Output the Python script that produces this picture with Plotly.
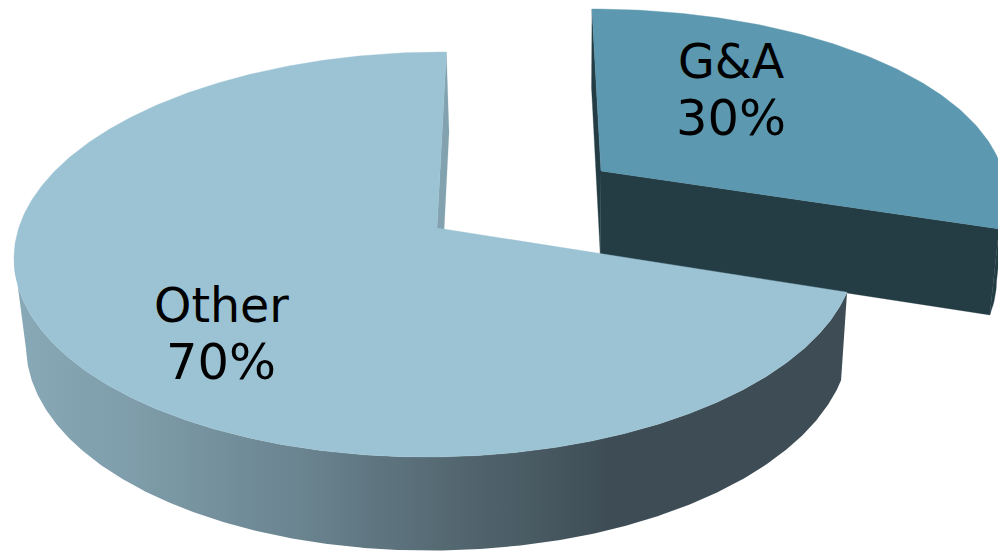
import numpy as np
import plotly.graph_objects as go

# ---- chart data ----
categories = ["G&A", "Other"]
shares = [30, 70]
percent_labels = ["30%", "70%"]

# ---- styles ----
TOP_GA = "#5c98af"
TOP_OTHER = "#9bc3d4"
DARK_GA = "#243d45"
WALL_OTHER = "#82a2af"
NAME_FONT = dict(family="DejaVu Sans", size=47.5, color="#000000")
PCT_FONT = dict(family="DejaVu Sans", size=49.5, color="#000000")
SIDE_STOPS_X = [15, 130, 300, 450, 610, 850]
SIDE_STOPS_RGB = [(136, 169, 183), (127, 157, 170), (106, 132, 144), (84, 104, 113), (62, 77, 85), (62, 77, 85)]

# ---- page geometry of the two tilted discs ----
OTHER_DISC = dict(c=(435, 254.5), a=(421, -2), b=(4, -202.5), apex=(437, 228), edge_deg=101.3, end_deg=361)
GA_DISC = dict(c=(592, 195), a=(414, 0), b=(0, -186), apex=(601, 171), edge_deg=100.5, end_deg=360)


def warp(frac_from, frac_to, disc, n):
    """Rim points for a fraction range of the pie; the share boundary lands on the foreshortened edge angle."""
    boundary = shares[0] / 100
    fr = np.linspace(frac_from, frac_to, n)
    deg = np.interp(fr, [0, boundary, 1], [0, disc["edge_deg"], disc["end_deg"]])
    t = np.radians(deg)
    c, a, b = (np.array(disc[k], float) for k in ("c", "a", "b"))
    return c + np.outer(np.sin(t), a) + np.outer(np.cos(t), b)


def drop(S):
    S = np.atleast_2d(S).astype(float)
    return S + np.c_[-0.0216 * (S[:, 0] - 570), 78.5 + 0.033 * S[:, 1]]


def poly(fig, pts, color, line=0.8):
    pts = np.vstack([pts, pts[:1]])
    fig.add_trace(go.Scatter(x=pts[:, 0], y=pts[:, 1], mode="lines", fill="toself", fillcolor=color,
                             line=dict(color=color, width=line), hoverinfo="skip", showlegend=False))


fig = go.Figure()
split = shares[0] / 100

# G&A slice (exploded, behind)
ga_rim = warp(0, split, GA_DISC, 120)
ga_apex = np.array([GA_DISC["apex"]], float)
front = ga_rim[ga_rim[:, 1] > GA_DISC["c"][1]]
poly(fig, np.vstack([front, drop(front)[::-1]]), DARK_GA, 0.3)
poly(fig, np.vstack([ga_apex, ga_rim[-1:], drop(ga_rim[-1:]), drop(ga_apex)]), DARK_GA, 0.3)
poly(fig, np.vstack([ga_apex, ga_rim[:1], drop(ga_rim[:1]), drop(ga_apex)]), DARK_GA, 0.3)
poly(fig, np.vstack([ga_apex, ga_rim]), TOP_GA, 0.4)

# Other slice: outer wall with horizontal gradient, inner wall, top face
other_rim = warp(split, 1, OTHER_DISC, 500)
visible = other_rim[: np.argmin(other_rim[:, 0]) + 2]
wall = np.vstack([visible, drop(visible)[::-1], visible[:1]])
x0, x1 = SIDE_STOPS_X[0], SIDE_STOPS_X[-1]
scale = [[(x - x0) / (x1 - x0), "rgb(%d,%d,%d)" % c] for x, c in zip(SIDE_STOPS_X, SIDE_STOPS_RGB)]
fig.add_trace(go.Scatter(x=wall[:, 0], y=wall[:, 1], mode="lines", fill="toself", line=dict(width=0),
                         fillgradient=dict(type="horizontal", colorscale=scale, start=x0, stop=x1),
                         hoverinfo="skip", showlegend=False))
apex = np.array([OTHER_DISC["apex"]], float)
poly(fig, np.vstack([apex, other_rim[-1:], drop(other_rim[-1:]), drop(apex)]), WALL_OTHER, 0.2)
poly(fig, np.vstack([apex, other_rim]), TOP_OTHER, 0.4)

# labels
label_x = [731, 221]
label_y = [[61, 118], [305, 362]]
for name, pct, x, ys in zip(categories, percent_labels, label_x, label_y):
    for txt, y, font in zip((name, pct), ys, (NAME_FONT, PCT_FONT)):
        fig.add_annotation(x=x, y=y, text=txt, showarrow=False, font=font,
                           xanchor="center", yanchor="middle")

fig.update_layout(
    width=998, height=552, margin=dict(l=0, r=0, t=0, b=0),
    paper_bgcolor="white", plot_bgcolor="white", showlegend=False,
    xaxis=dict(range=[0, 998], visible=False, fixedrange=True),
    yaxis=dict(range=[552, 0], visible=False, fixedrange=True),
)
fig.write_html("out.html", config=dict(displayModeBar=False),
               post_script="document.body.style.margin='0';document.body.style.overflow='hidden';")
